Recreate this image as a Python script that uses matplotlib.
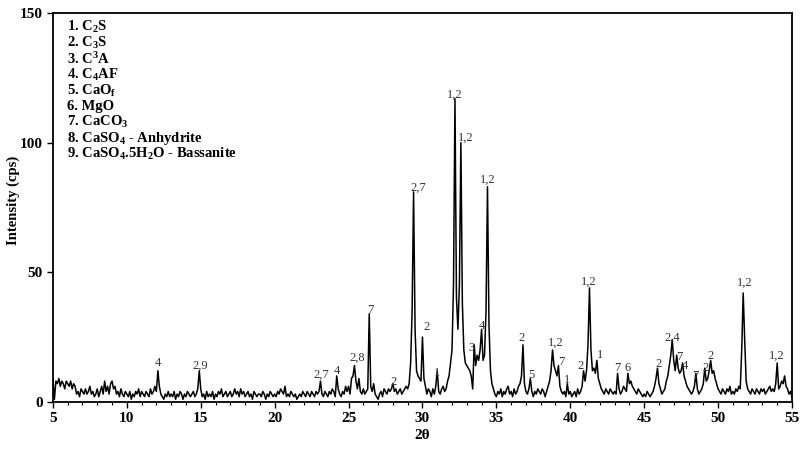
import numpy as np
import matplotlib
matplotlib.use('Agg')
import matplotlib.pyplot as plt
from matplotlib.ticker import MultipleLocator

plt.rcParams['font.family'] = ['Liberation Serif', 'DejaVu Serif']
plt.rcParams['mathtext.fontset'] = 'custom'
plt.rcParams['mathtext.rm'] = 'Liberation Serif:bold'
plt.rcParams['mathtext.it'] = 'Liberation Serif:italic:bold'
plt.rcParams['mathtext.bf'] = 'Liberation Serif:bold'

# intensity (cps) read every 0.1 deg, one row per degree 2theta (5.0 ... 54.9), then 55.0
rows = {
    5:  [9, 1, 8, 7, 9, 6, 8, 7, 5, 8],
    6:  [7, 6, 8, 5, 7, 6, 3, 4, 2, 5],
    7:  [4, 3, 5, 3, 4, 6, 3, 4, 2, 3],
    8:  [5, 2, 4, 6, 3, 8, 4, 6, 3, 7],
    9:  [8, 5, 6, 3, 4, 2, 5, 3, 2, 4],
    10: [3, 2, 4, 1, 3, 2, 4, 3, 5, 2],
    11: [4, 3, 2, 4, 3, 2, 5, 3, 4, 6],
    12: [4, 12, 6, 3, 2, 1, 3, 2, 4, 2],
    13: [3, 2, 4, 1, 3, 2, 4, 3, 1, 3],
    14: [2, 4, 3, 2, 3, 4, 2, 3, 5, 12],
    15: [5, 2, 3, 1, 4, 2, 3, 2, 4, 1],
    16: [3, 2, 4, 3, 5, 2, 3, 4, 2, 3],
    17: [4, 2, 3, 5, 3, 4, 2, 5, 3, 4],
    18: [2, 3, 4, 2, 3, 1, 4, 3, 2, 3],
    19: [3, 2, 4, 3, 1, 3, 2, 4, 3, 2],
    20: [3, 2, 4, 3, 5, 4, 3, 6, 2, 3],
    21: [2, 4, 3, 2, 3, 1, 2, 3, 2, 4],
    22: [3, 2, 4, 3, 2, 4, 3, 2, 4, 3],
    23: [4, 8, 3, 2, 4, 3, 2, 4, 3, 5],
    24: [4, 2, 10, 5, 3, 2, 4, 3, 6, 4],
    25: [6, 3, 9, 10, 14, 8, 5, 9, 4, 3],
    26: [5, 3, 4, 5, 34, 6, 4, 7, 3, 2],
    27: [1, 3, 4, 2, 5, 4, 3, 5, 4, 5],
    28: [7, 4, 5, 3, 4, 5, 3, 4, 5, 6],
    29: [5, 7, 15, 35, 81, 28, 12, 10, 9, 8],
    30: [25, 9, 6, 3, 5, 4, 2, 5, 3, 6],
    31: [12, 4, 3, 5, 6, 4, 5, 8, 10, 15],
    32: [20, 45, 117, 40, 28, 45, 100, 38, 20, 15],
    33: [14, 13, 12, 10, 5, 22, 14, 18, 16, 20],
    34: [28, 16, 18, 35, 83, 30, 12, 7, 5, 3],
    35: [2, 4, 3, 5, 2, 4, 3, 5, 6, 3],
    36: [4, 2, 5, 3, 4, 6, 7, 10, 22, 7],
    37: [4, 3, 5, 9, 4, 2, 4, 3, 5, 4],
    38: [3, 5, 4, 2, 4, 6, 8, 12, 20, 14],
    39: [12, 10, 14, 6, 4, 3, 4, 2, 7, 3],
    40: [4, 2, 3, 4, 2, 5, 3, 4, 6, 12],
    41: [8, 12, 22, 44, 20, 12, 13, 11, 16, 9],
    42: [7, 5, 4, 3, 5, 4, 3, 5, 4, 3],
    43: [4, 3, 11, 5, 3, 4, 6, 5, 4, 11],
    44: [7, 8, 6, 5, 4, 3, 5, 4, 3, 2],
    45: [3, 2, 4, 3, 2, 3, 4, 6, 9, 13],
    46: [7, 5, 3, 4, 5, 8, 10, 14, 18, 24],
    47: [16, 12, 18, 13, 11, 12, 15, 10, 8, 6],
    48: [5, 4, 3, 4, 6, 11, 5, 3, 4, 5],
    49: [7, 13, 8, 9, 12, 16, 11, 12, 9, 7],
    50: [5, 4, 3, 5, 4, 3, 5, 4, 6, 3],
    51: [4, 3, 5, 4, 6, 5, 20, 42, 24, 8],
    52: [5, 4, 3, 5, 4, 3, 5, 4, 3, 5],
    53: [4, 5, 3, 4, 5, 6, 4, 5, 4, 7],
    54: [15, 5, 6, 8, 7, 10, 6, 5, 3, 4],
}
last_value = 2

intensity = [v for k in sorted(rows) for v in rows[k]] + [last_value]
two_theta = np.round(np.arange(len(intensity)) * 0.1 + 5.0, 1)

# peak labels: text, 2theta, intensity at label centre
peak_text = ['4', '2,9', '2,7', '4', '2,8', '7', '2', '2,7', '2', '1',
             '1,2', '1,2', '3', '4', '1,2', '2', '5', '1,2', '7', '1',
             '2', '1,2', '1', '7', '6', '2', '2,4', '7', '4', '7',
             '2', '2', '1,2', '1,2']
peak_x = [12.1, 15.0, 23.15, 24.2, 25.6, 26.45, 28.07, 29.7, 30.3, 31.0,
          32.2, 32.94, 33.35, 34.03, 34.43, 36.73, 37.4, 39.03, 39.37, 39.78,
          40.72, 41.27, 42.0, 43.16, 43.9, 46.0, 46.88, 47.4, 47.76, 48.44,
          49.18, 49.52, 51.83, 54.0]
peak_y = [15.0, 13.9, 10.4, 12.0, 17.0, 35.5, 7.7, 82.5, 28.9, 11.2,
          118.4, 101.8, 20.8, 29.3, 85.6, 24.7, 10.4, 22.9, 15.4, 8.5,
          13.9, 46.3, 18.1, 13.1, 13.1, 14.7, 24.7, 17.4, 13.9, 10.0,
          13.1, 17.7, 46.0, 17.7]

phases = [r'1. C$_2$S', r'2. C$_3$S', r'3. C$^3$A', r'4. C$_4$AF',
          r'5. CaO$_\mathrm{f}$', r'6. MgO', r'7. CaCO$_3$',
          r'8. CaSO$_4$ - Anhydrite', r'9. CaSO$_4$.5H$_2$O - Bassanite']

fig = plt.figure(figsize=(8.02, 4.5), dpi=100)
ax = fig.add_axes([0.066, 0.107, 0.9215, 0.864])

ax.plot(two_theta, intensity, color='black', linewidth=1.1)

for txt, x, y in zip(peak_text, peak_x, peak_y):
    ax.text(x, y, txt, ha='center', va='center', fontsize=9, color='#333333')

for i, p in enumerate(phases):
    fig.text(0.083, 0.94 - i * 0.0353, p, fontsize=10.5, fontweight='bold',
             ha='left', va='center')

ax.set_xlim(5, 55)
ax.set_ylim(0, 150)
ax.xaxis.set_major_locator(MultipleLocator(5))
ax.xaxis.set_minor_locator(MultipleLocator(1))
ax.yaxis.set_major_locator(MultipleLocator(50))
ax.tick_params(which='major', direction='out', length=4, width=1, labelsize=11)
ax.tick_params(which='minor', direction='out', length=2, width=0.8)
for lab in ax.get_xticklabels() + ax.get_yticklabels():
    lab.set_fontweight('bold')
for s in ax.spines.values():
    s.set_linewidth(1.3)

ax.set_xlabel('2θ', fontsize=11, fontweight='bold', labelpad=3)
ax.set_ylabel('Intensity (cps)', fontsize=10.5, fontweight='bold',
              va='center')
ax.yaxis.set_label_coords(-0.054, 0.517)

plt.savefig('out.png', dpi=100)
